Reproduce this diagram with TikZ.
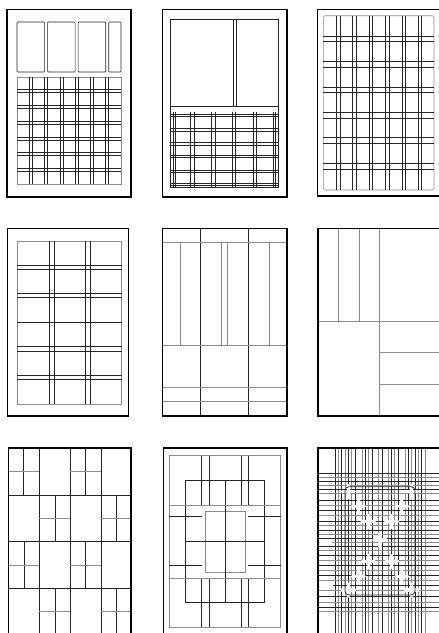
\documentclass[tikz,border=0pt]{standalone}
\begin{document}
\begin{tikzpicture}[x=1pt,y=-1pt,
  frame/.style={line width=1.6pt,black},
  ln/.style={line width=0.6pt,black!85},
  gl/.style={line width=0.6pt,black!45},
  blank/.style={line width=3.4pt,white,line cap=round}]
\useasboundingbox (0,0) rectangle (439,633);
\clip (0,0) rectangle (439,633);
\fill[white] (0,0) rectangle (439,633);

% ---------- Panel 1 ----------
\foreach \a/\b in {17/44.6,47.6/75.1,78.1/105.7,108.7/121}
  \draw[ln,rounded corners=0.8pt] (\a,22) rectangle (\b,72);
\draw[gl] (17,77) rectangle (121,184);
\foreach \x in {29.3,32.3,44.6,47.6,59.9,62.9,75.1,78.1,90.4,93.4,105.7,108.7}
  \draw[ln] (\x,77) -- (\x,184);
\foreach \y in {89.7,92.7,105.4,108.4,121.1,124.1,136.9,139.9,152.6,155.6,168.3,171.3}
  \draw[ln] (17,\y) -- (121,\y);
\draw[frame] (7,9.3) rectangle (131,196.7);

% ---------- Panel 2 ----------
\draw[ln,line width=0.9pt] (170.7,19.3) rectangle (278.3,187.3);
\draw[ln] (233.3,19.3) -- (233.3,106.7);
\draw[ln] (236,19.3) -- (236,106.7);
\draw[ln] (170.7,106.7) -- (278.3,106.7);
\foreach \x in {173.3,175.7,190.7,194,211.7,215,232.3,235.7,253.3,256.7,273.3,275.7}
  \draw[ln] (\x,112) -- (\x,187.3);
\foreach \y in {114,116.7,128.3,131,142.7,145,155,157.3,170.7,172.7,183.3,185.7}
  \draw[ln] (170.7,\y) -- (278.3,\y);
\draw[frame] (162.3,9.3) rectangle (286.7,196.7);

% ---------- Panel 3 ----------
\draw[gl,rounded corners=1.5pt] (323.3,15.7) rectangle (434,190);
\foreach \x in {336.7,340,352.7,356,369,372.3,385.7,389,402.3,405.7,418.3,421.7}
  \draw[ln] (\x,15.7) -- (\x,190);
\foreach \y in {36,41.7,61.7,67.3,87.3,92.3,112.7,118.3,137.7,143.3,163.3,169}
  \draw[ln] (323.3,\y) -- (434,\y);
\draw[frame] (317.3,9.3) rectangle (446,196);

% ---------- Panel 4 ----------
\draw[gl] (17.3,241) rectangle (121.7,404.3);
\foreach \x in {49,54,85,90}
  \draw[ln] (\x,241) -- (\x,404.3);
\foreach \y in {265,269.3,293.3,297.7,322.3,346.7,351,375.7,379.3}
  \draw[ln] (17.3,\y) -- (121.7,\y);
\draw[frame] (7.3,228.3) rectangle (128.3,415.7);

% ---------- Panel 5 ----------
\foreach \x in {200.7,248.3}
  \draw[ln] (\x,228.3) -- (\x,415.7);
\foreach \y in {242.7,345,387.3,401.7}
  \draw[gl] (162.3,\y) -- (286.7,\y);
\foreach \x in {180,221.7,227.3,269.3}
  \draw[gl] (\x,242.7) -- (\x,345);
\draw[frame] (162.3,228.3) rectangle (286.7,415.7);

% ---------- Panel 6 ----------
\draw[gl] (338.3,228.3) -- (338.3,321.7);
\draw[gl] (359,228.3) -- (359,321.7);
\draw[gl] (379.3,228.3) -- (379.3,415.7);
\draw[gl] (317.7,321.7) -- (446,321.7);
\draw[gl] (379.3,352.7) -- (446,352.7);
\draw[gl] (379.3,384) -- (446,384);
\draw[frame] (317.7,228.3) rectangle (446,415.7);

% ---------- Panel 7 ----------
\foreach \x in {39.3,70,101}
  \draw[ln] (\x,447.7) -- (\x,640);
\foreach \y in {495,541.7,588.3}
  \draw[ln] (8.3,\y) -- (131,\y);
\foreach \xa/\xb/\xm/\ya/\yb/\ym in {
   8.3/39.3/23.3/447.7/495/471.7,
   70/101/85.7/447.7/495/471.7,
   39.3/70/55/495/541.7/518.3,
   101/131/116/495/541.7/518.3,
   8.3/39.3/24/541.7/588.3/565,
   70/101/85.7/541.7/588.3/565,
   39.3/70/55/588.3/640/611.7,
   101/131/116.7/588.3/640/611.7}
{
  \draw[ln] (\xm,\ya) -- (\xm,\yb);
  \draw[gl] (\xa,\ym) -- (\xb,\ym);
}
\draw[frame] (8.3,447.7) rectangle (131,640);

% ---------- Panel 8 ----------
\draw[gl] (169.3,455.7) rectangle (280.7,627.3);
\draw[ln] (185.7,480) rectangle (264.3,602.7);
\draw[gl] (205,511) rectangle (245.7,572.3);
\foreach \x in {201.7,209,241,248.3}
{
  \draw[ln] (\x,455.7) -- (\x,505);
  \draw[ln] (\x,578.3) -- (\x,627.3);
}
\draw[ln] (225,480) -- (225,602.7);
\draw[gl] (169.3,505) -- (280.7,505);
\draw[gl] (169.3,578.3) -- (280.7,578.3);
\draw[ln] (185.7,541.7) -- (264.3,541.7);
\foreach \y in {516.7,565.7}
{
  \draw[ln] (169.3,\y) -- (201.7,\y);
  \draw[ln] (248.3,\y) -- (280.7,\y);
}
\draw[frame] (163.3,447.7) rectangle (286.7,640);

% ---------- Panel 9 ----------
\foreach \x [count=\i] in {335,338.3,341.7,345,348.3,351.7,355,362,365.3,368.7,372,378,382,388,391.3,394.7,398,405,408.3,411.7,415,418.3,421.7,425}
{
  \ifodd\i \draw[ln] (\x,447.7) -- (\x,640); \else \draw[gl] (\x,447.7) -- (\x,640); \fi
}
\foreach \y [count=\i] in {473,477,481,485,489,493,500,505,510,515,521,525,530,534,538,542,546,550,555,560,565,570,575,580,585,590,596,602,607,611}
{
  \ifodd\i \draw[ln] (317.7,\y) -- (446,\y); \else \draw[gl] (317.7,\y) -- (446,\y); \fi
}
\foreach \y in {496.5,541,586}
  \fill[white,rounded corners=2pt] (319,\y-2) rectangle (333,\y+2);
\foreach \x in {358.5,385,401.5}
  \fill[white,rounded corners=2pt] (\x-2,449) rectangle (\x+2,471);
\foreach \x/\y in {348.3/491.7,411.7/491.7,358.3/506.7,401.7/506.7,368.3/521.7,391.7/521.7,
                   380/540,368.3/561.7,391.7/561.7,358.3/576.7,401.7/576.7,348.3/590,411.7/590}
{
  \draw[blank] (\x-6,\y) -- (\x+6,\y);
  \draw[blank] (\x,\y-6) -- (\x,\y+6);
}
\draw[ln,line width=0.8pt,rounded corners=4pt] (345,486.7) rectangle (415,595);
\draw[frame] (317.7,447.7) rectangle (446,640);
\end{tikzpicture}
\end{document}
